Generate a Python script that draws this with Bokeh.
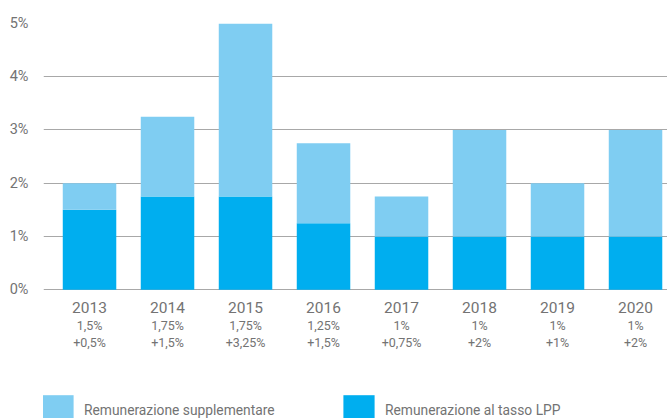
from bokeh.plotting import figure
from bokeh.models import (ColumnDataSource, Range1d, FixedTicker, PrintfTickFormatter,
                          Legend, LegendItem)
from bokeh.core.properties import value
from bokeh.embed import file_html
from bokeh.resources import INLINE

# ---- data ----
years = [2013, 2014, 2015, 2016, 2017, 2018, 2019, 2020]
year_labels = ["2013", "2014", "2015", "2016", "2017", "2018", "2019", "2020"]
lpp_rate = [1.5, 1.75, 1.75, 1.25, 1.0, 1.0, 1.0, 1.0]
supplement = [0.5, 1.5, 3.25, 1.5, 0.75, 2.0, 1.0, 2.0]
lpp_labels = ["1,5%", "1,75%", "1,75%", "1,25%", "1%", "1%", "1%", "1%"]
supp_labels = ["+0,5%", "+1,5%", "+3,25%", "+1,5%", "+0,75%", "+2%", "+1%", "+2%"]
y_ticks = [0, 1, 2, 3, 4, 5]
series_names = ["Remunerazione supplementare", "Remunerazione al tasso LPP"]

FONT = "Roboto"
DARK = "#00aeef"
LIGHT = "#7fcdf2"
GRID = "#a8a8a8"
TXT = "#737373"

source = ColumnDataSource(dict(
    year=years, lpp=lpp_rate, supp=supplement,
    zero=[0] * len(years), ylab=year_labels, l1=lpp_labels, l2=supp_labels,
))

p = figure(width=667, height=418, output_backend="svg", toolbar_location=None,
           x_range=Range1d(2012.41, 2020.41), y_range=Range1d(-2.42, 5),
           x_axis_location=None, min_border_left=43, min_border_right=0,
           min_border_top=23, min_border_bottom=0)
p.outline_line_color = None
p.background_fill_color = "white"
p.border_fill_color = "white"

r_lpp, r_supp = p.vbar_stack(["lpp", "supp"], x="year", width=0.686,
                             color=[DARK, LIGHT], line_color=None, source=source)

# category labels below the baseline
p.text(x="year", y="zero", text="ylab", source=source, y_offset=18,
       text_align="center", text_baseline="middle", text_color=TXT,
       text_font=value(FONT), text_font_size="15.5px")
p.text(x="year", y="zero", text="l1", source=source, y_offset=36,
       text_align="center", text_baseline="middle", text_color=TXT,
       text_font=value(FONT), text_font_size="12.5px")
p.text(x="year", y="zero", text="l2", source=source, y_offset=53,
       text_align="center", text_baseline="middle", text_color=TXT,
       text_font=value(FONT), text_font_size="12.5px")

# y axis
yax = p.yaxis[0]
yax.ticker = FixedTicker(ticks=y_ticks)
yax.formatter = PrintfTickFormatter(format="%d%%")
yax.axis_line_color = None
yax.major_tick_line_color = None
yax.minor_tick_line_color = None
yax.major_label_standoff = 9
yax.major_label_text_font = FONT
yax.major_label_text_font_size = "14.5px"
yax.major_label_text_color = TXT

p.xgrid.visible = False
p.ygrid.ticker = FixedTicker(ticks=y_ticks)
p.ygrid.grid_line_color = GRID
p.ygrid.grid_line_width = 1

legend = Legend(items=[LegendItem(label=series_names[0], renderers=[r_supp]),
                       LegendItem(label=series_names[1], renderers=[r_lpp])],
                location=(-5, -10), orientation="horizontal",
                glyph_width=39, glyph_height=37, label_standoff=7,
                label_width=255, spacing=0, padding=0, margin=0,
                border_line_color=None, background_fill_alpha=0,
                label_text_font=FONT, label_text_font_size="13.8px",
                label_text_color=TXT)
p.add_layout(legend, "center")

open("out.html", "w").write(file_html(p, INLINE))
